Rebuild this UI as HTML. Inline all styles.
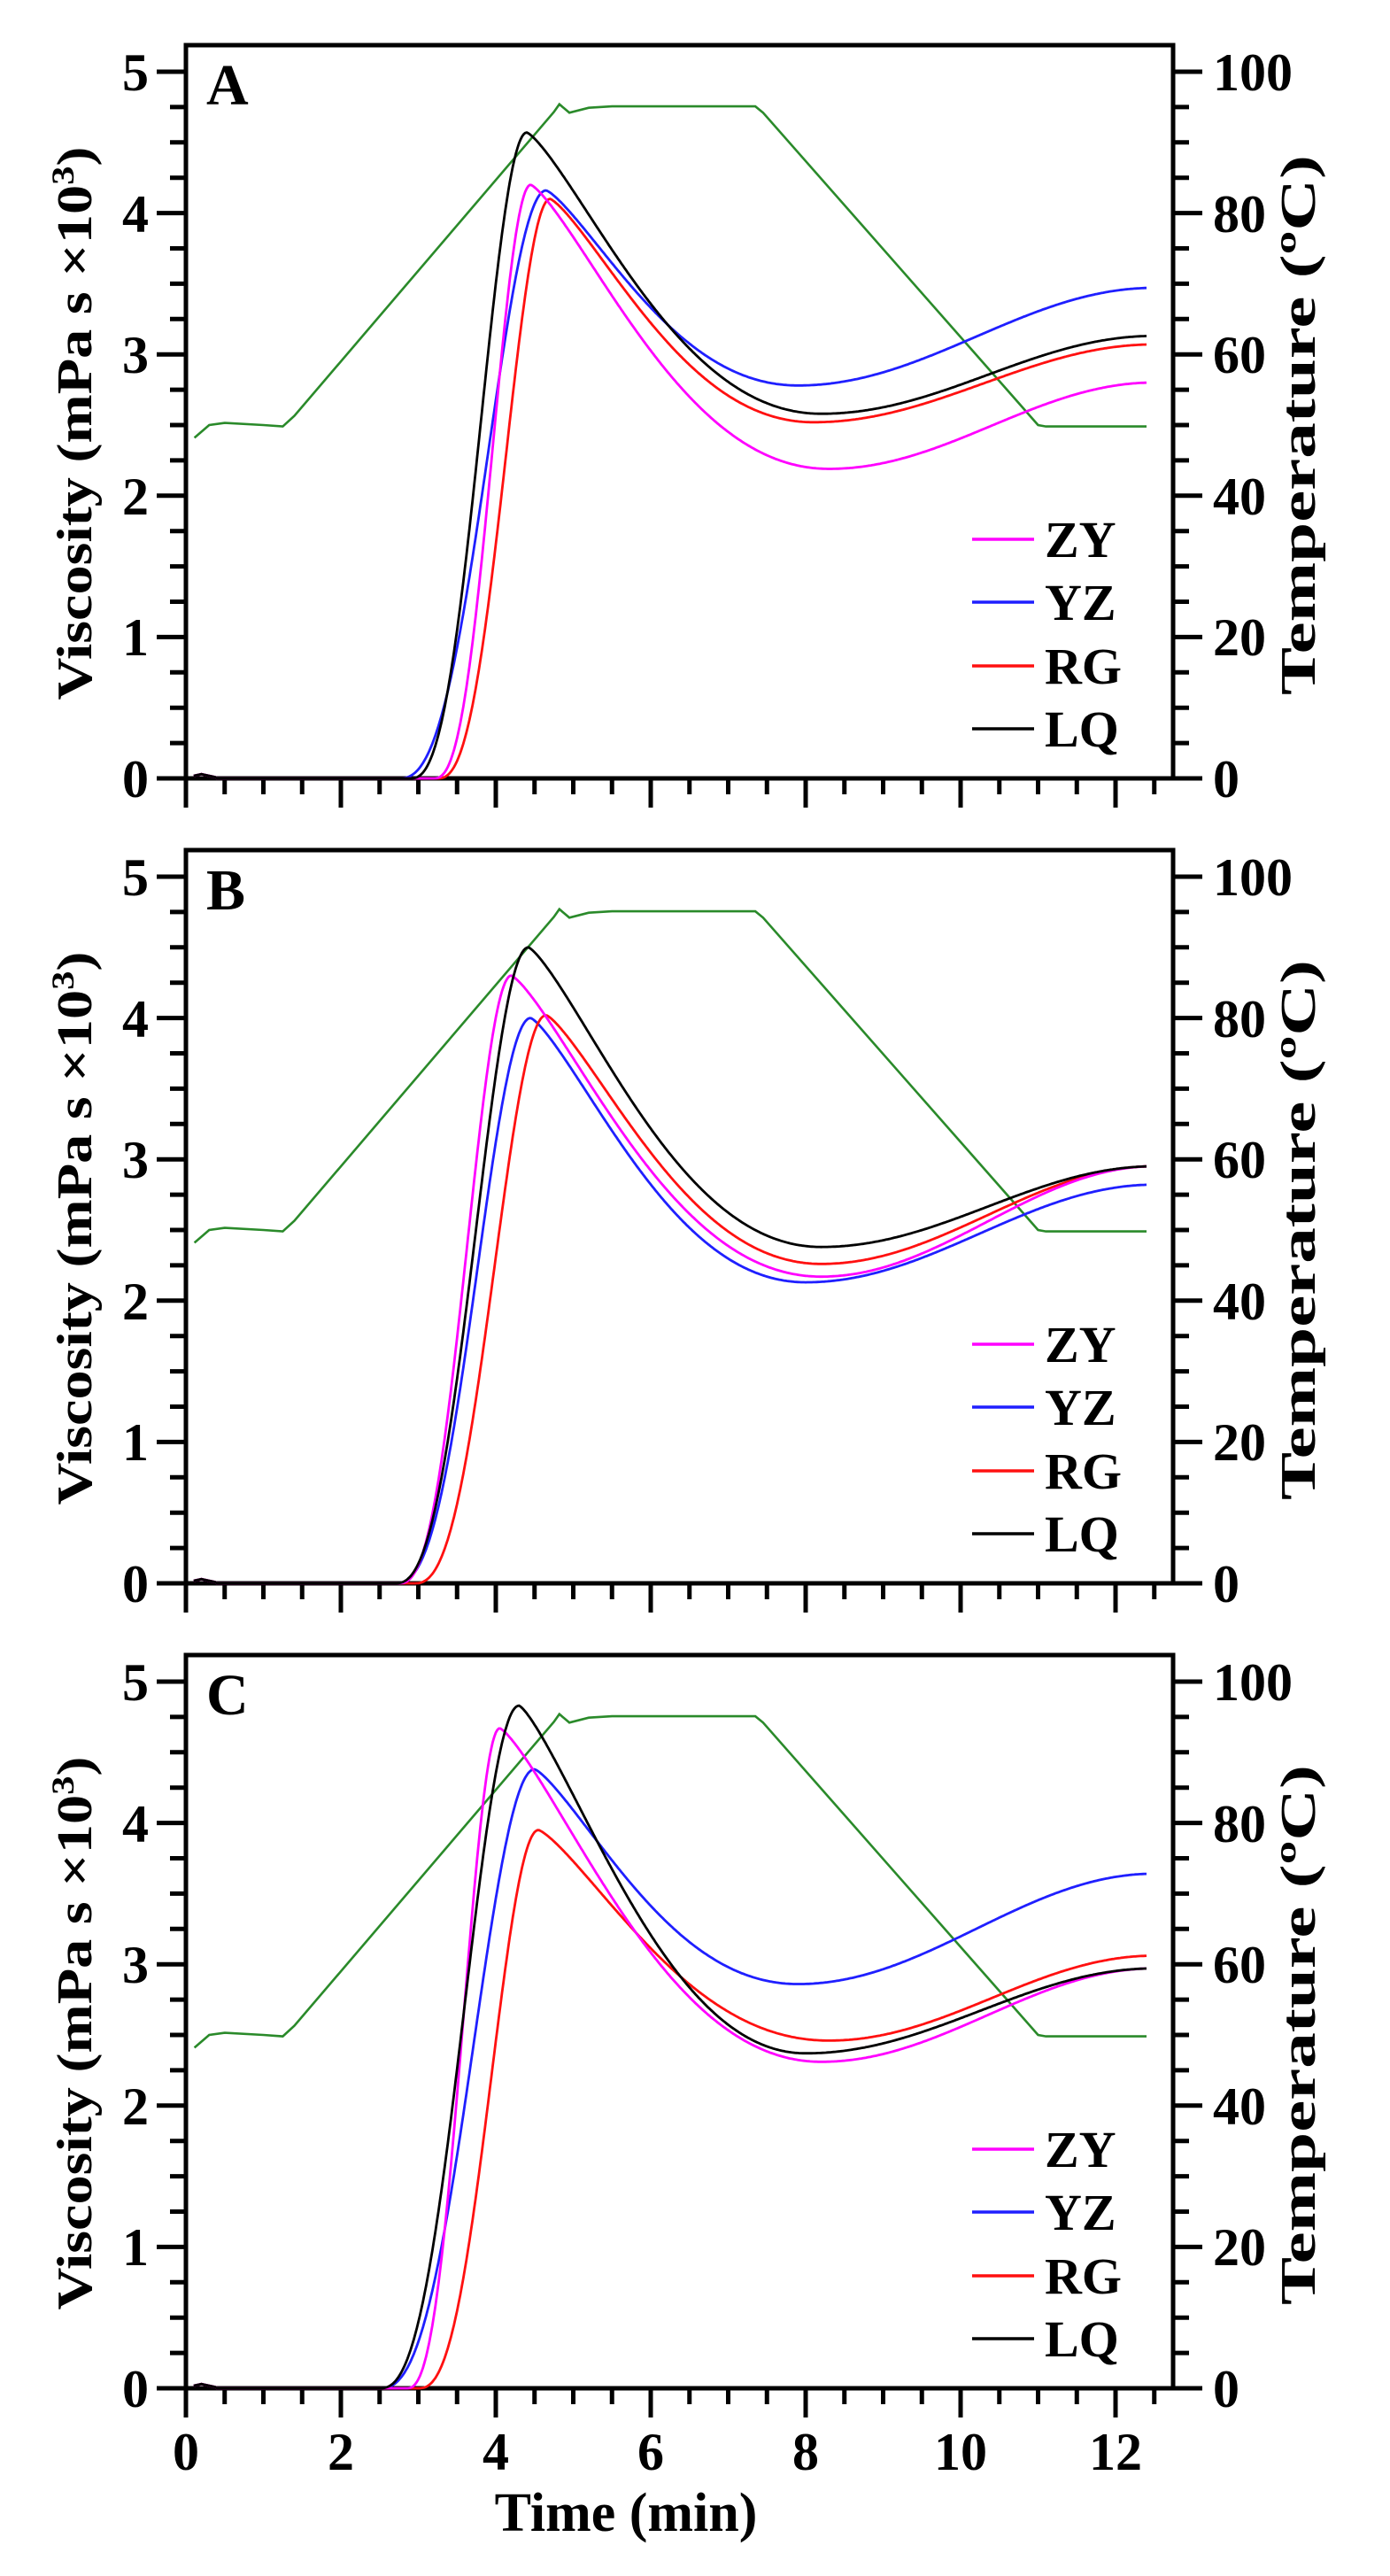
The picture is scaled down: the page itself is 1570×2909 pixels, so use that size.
<!DOCTYPE html>
<html><head><meta charset="utf-8">
<style>
html,body{margin:0;padding:0;background:#fff;}
svg{display:block;}
text{font-family:"Liberation Serif",serif;font-weight:bold;fill:#000;}
</style></head>
<body>
<svg id="s" width="1570" height="2909" viewBox="0 0 1570 2909" xmlns="http://www.w3.org/2000/svg">
<g id="g"></g>
<text x="233" y="118" font-size="66">A</text>
<text x="233" y="1027" font-size="66">B</text>
<text x="233" y="1936" font-size="66">C</text>

<g font-size="60" text-anchor="end">
<text x="168" y="900">0</text><text x="168" y="740">1</text><text x="168" y="581">2</text><text x="168" y="421">3</text><text x="168" y="262">4</text><text x="168" y="102">5</text>
<text x="168" y="1809">0</text><text x="168" y="1649">1</text><text x="168" y="1490">2</text><text x="168" y="1330">3</text><text x="168" y="1171">4</text><text x="168" y="1011">5</text>
<text x="168" y="2718">0</text><text x="168" y="2558">1</text><text x="168" y="2399">2</text><text x="168" y="2239">3</text><text x="168" y="2080">4</text><text x="168" y="1920">5</text>
</g>
<g font-size="60" text-anchor="start">
<text x="1370" y="900">0</text><text x="1370" y="740">20</text><text x="1370" y="581">40</text><text x="1370" y="421">60</text><text x="1370" y="262">80</text><text x="1370" y="102">100</text>
<text x="1370" y="1809">0</text><text x="1370" y="1649">20</text><text x="1370" y="1490">40</text><text x="1370" y="1330">60</text><text x="1370" y="1171">80</text><text x="1370" y="1011">100</text>
<text x="1370" y="2718">0</text><text x="1370" y="2558">20</text><text x="1370" y="2399">40</text><text x="1370" y="2239">60</text><text x="1370" y="2080">80</text><text x="1370" y="1920">100</text>
</g>
<g font-size="60" text-anchor="middle">
<text x="210" y="2789">0</text><text x="385" y="2789">2</text><text x="560" y="2789">4</text><text x="735" y="2789">6</text><text x="910" y="2789">8</text><text x="1085" y="2789">10</text><text x="1260" y="2789">12</text>
<text x="707" y="2858" font-size="62">Time (min)</text>
</g>
<g font-size="56" text-anchor="middle">
<text transform="translate(103,478) rotate(-90)" textLength="625" lengthAdjust="spacingAndGlyphs">Viscosity (mPa s ×10<tspan dy="-20" font-size="36">3</tspan><tspan dy="20">)</tspan></text>
<text transform="translate(103,1387) rotate(-90)" textLength="625" lengthAdjust="spacingAndGlyphs">Viscosity (mPa s ×10<tspan dy="-20" font-size="36">3</tspan><tspan dy="20">)</tspan></text>
<text transform="translate(103,2296) rotate(-90)" textLength="625" lengthAdjust="spacingAndGlyphs">Viscosity (mPa s ×10<tspan dy="-20" font-size="36">3</tspan><tspan dy="20">)</tspan></text>
<text transform="translate(1485,480) rotate(-90)" textLength="610" lengthAdjust="spacingAndGlyphs">Temperature (ºC)</text>
<text transform="translate(1485,1389) rotate(-90)" textLength="610" lengthAdjust="spacingAndGlyphs">Temperature (ºC)</text>
<text transform="translate(1485,2298) rotate(-90)" textLength="610" lengthAdjust="spacingAndGlyphs">Temperature (ºC)</text>
</g>
<g font-size="58">
<text x="1180" y="629">ZY</text><text x="1180" y="700">YZ</text><text x="1180" y="772">RG</text><text x="1180" y="843">LQ</text>
<text x="1180" y="1538">ZY</text><text x="1180" y="1609">YZ</text><text x="1180" y="1681">RG</text><text x="1180" y="1752">LQ</text>
<text x="1180" y="2447">ZY</text><text x="1180" y="2518">YZ</text><text x="1180" y="2590">RG</text><text x="1180" y="2661">LQ</text>
</g>
</svg>
<script>
(function(){
var NS="http://www.w3.org/2000/svg",g=document.getElementById("g");
function el(n,a){var e=document.createElementNS(NS,n);for(var k in a)e.setAttribute(k,a[k]);g.appendChild(e);return e;}
var X0=210,PX=87.5,VU=159.6,TU=7.98;
var cols={ZY:"#ff00ff",YZ:"#1f1fff",RG:"#ff1010",LQ:"#000000"};
var data=[
 {ZY:[3.2,4.45,4.2,8.3,2.19,2.8],YZ:[2.75,4.65,4.16,7.9,2.78,3.47],RG:[3.25,4.7,4.1,8.1,2.52,3.07],LQ:[2.9,4.4,4.57,8.2,2.58,3.13]},
 {ZY:[2.75,4.2,4.3,8.2,2.17,2.95],YZ:[2.7,4.45,4.0,8.0,2.13,2.82],RG:[2.95,4.65,4.02,8.2,2.26,2.95],LQ:[2.7,4.42,4.5,8.2,2.38,2.95]},
 {ZY:[2.85,4.05,4.67,8.2,2.31,2.97],YZ:[2.5,4.5,4.38,7.9,2.86,3.64],RG:[3.0,4.55,3.95,8.3,2.46,3.06],LQ:[2.5,4.3,4.83,8.0,2.37,2.97]}
];
var temp=[[0.11,48.2],[0.3,50],[0.5,50.3],[1.0,50],[1.25,49.8],[1.4,51.3],[4.75,94.3],[4.82,95.4],[4.95,94.2],[5.2,94.9],[5.5,95.1],[7.35,95.1],[7.45,94.2],[11.0,50],[11.1,49.8],[12.4,49.8]];
function val(p,t){
 var t0=p[0],tp=p[1],vp=p[2],tm=p[3],vm=p[4],ve=p[5];
 if(t<t0){return t<0.4?0.03*(1-Math.abs(t-0.2)/0.25):0;}
 if(t<tp){var u=(t-t0)/(tp-t0);u=Math.pow(u,1.25);return vp*(1-Math.cos(Math.PI*u))/2;}
 if(t<tm){var u=(t-tp)/(tm-tp);u=Math.pow(u,0.65);return vm+(vp-vm)*(1+Math.cos(Math.PI*u))/2;}
 var u=(t-tm)/(12.5-tm);return vm+(ve-vm)*(1-Math.cos(Math.PI*u))/2/((1-Math.cos(Math.PI*(12.4-tm)/(12.5-tm)))/2);
}
for(var i=0;i<3;i++){
 var A=879+909*i,top=A-828;
 el("rect",{x:210,y:top,width:1115,height:828,fill:"none",stroke:"#000","stroke-width":5});
 for(var k=0;k<=20;k++){var y=A-k*VU/4;var L=(k%4==0)?33:18;el("line",{x1:210-L,y1:y,x2:210,y2:y,stroke:"#000","stroke-width":5});}
 for(var k=0;k<=20;k++){var y=A-k*TU*5;var L=(k%4==0)?33:18;el("line",{x1:1325,y1:y,x2:1325+L,y2:y,stroke:"#000","stroke-width":5});}
 for(var k=0;k<=25;k++){var x=X0+k*PX/2;if(x>1325)break;var L=(k%4==0)?33:18;el("line",{x1:x,y1:A,x2:x,y2:A+L,stroke:"#000","stroke-width":5});}
 var d="";temp.forEach(function(q,j){d+=(j?"L":"M")+(X0+q[0]*PX).toFixed(1)+","+(A-q[1]*TU).toFixed(1);});
 el("path",{d:d,fill:"none",stroke:"#2a8a2a","stroke-width":2.6});
 ["YZ","RG","ZY","LQ"].forEach(function(n){
  var p=data[i][n],d="";
  for(var t=0.1;t<=12.401;t+=0.02){d+=(d?"L":"M")+(X0+t*PX).toFixed(1)+","+(A-val(p,t)*VU).toFixed(1);}
  el("path",{d:d,fill:"none",stroke:cols[n],"stroke-width":2.8});
 });
 var ly=[609,680,752,823],nm=["ZY","YZ","RG","LQ"];
 for(var j=0;j<4;j++){var yy=ly[j]+909*i;el("line",{x1:1098,y1:yy,x2:1168,y2:yy,stroke:cols[nm[j]],"stroke-width":3.5});}
}
})();
</script>
</body></html>
